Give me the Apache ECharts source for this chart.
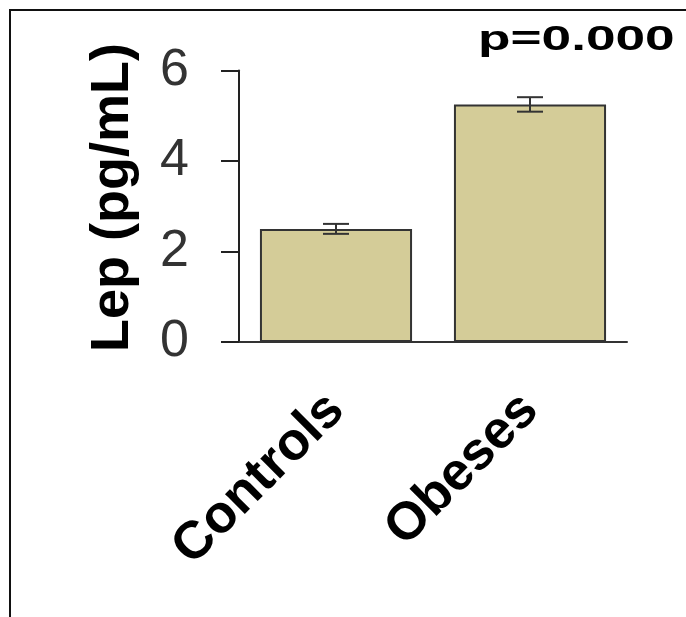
<!DOCTYPE html>
<html>
<head>
<meta charset="utf-8">
<style>html,body{margin:0;padding:0;background:#fff;}#c{width:686px;height:617px;}</style>
<script src="https://cdn.jsdelivr.net/npm/echarts@6/dist/echarts.min.js"></script>
</head>
<body>
<div id="c"></div>
<script>
const categories = ['Controls', 'Obeses'];
const means = [2.50, 5.25];
const errors = [0.11, 0.16];
const yTicks = [0, 2, 4, 6];
const yName = 'Lep (pg/mL)';
const pText = 'p=0.000';

const chart = echarts.init(document.getElementById('c'), null, {renderer: 'canvas'});
const errData = categories.map((c, i) => [i, means[i] - errors[i], means[i] + errors[i]]);

chart.setOption({
  animation: false,
  backgroundColor: '#fff',
  grid: {left: 239, right: 59, top: 70.5, bottom: 275, containLabel: false},
  xAxis: {
    type: 'category',
    data: categories,
    axisLine: {lineStyle: {color: '#333', width: 2}},
    axisTick: {show: false},
    axisLabel: {
      rotate: 45, interval: 0, margin: 60,
      fontFamily: 'Liberation Sans', fontWeight: 'bold', fontSize: 53, color: '#000'
    }
  },
  yAxis: {
    type: 'value', min: 0, max: 6, interval: 2,
    axisLine: {show: true, lineStyle: {color: '#222', width: 2}},
    axisTick: {show: true, length: 18, lineStyle: {color: '#222', width: 2}},
    splitLine: {show: false},
    axisLabel: {
      margin: 50, fontFamily: 'Liberation Sans', fontSize: 52, color: '#333',
      formatter: v => yTicks.includes(v) ? String(v) : ''
    }
  },
  series: [
    {
      type: 'bar',
      data: means,
      barCategoryGap: '21.6%',
      itemStyle: {color: '#d4cc98', borderColor: '#333', borderWidth: 2},
      z: 2
    },
    {
      type: 'custom',
      data: errData,
      z: 3,
      renderItem: function (params, api) {
        const x = api.value(0);
        const lo = api.coord([x, api.value(1)]);
        const hi = api.coord([x, api.value(2)]);
        const hw = 13;
        const st = {stroke: '#333', lineWidth: 2};
        return {
          type: 'group',
          children: [
            {type: 'line', shape: {x1: lo[0], y1: lo[1], x2: hi[0], y2: hi[1]}, style: st},
            {type: 'line', shape: {x1: lo[0] - hw, y1: lo[1], x2: lo[0] + hw, y2: lo[1]}, style: st},
            {type: 'line', shape: {x1: hi[0] - hw, y1: hi[1], x2: hi[0] + hw, y2: hi[1]}, style: st}
          ]
        };
      }
    }
  ],
  graphic: [
    {type: 'line', shape: {x1: 9, y1: 10, x2: 686, y2: 10}, style: {stroke: '#111', lineWidth: 2}},
    {type: 'line', shape: {x1: 10, y1: 9, x2: 10, y2: 617}, style: {stroke: '#111', lineWidth: 2}},
    {
      type: 'text', x: 113, y: 197.5, rotation: Math.PI / 2,
      style: {text: yName, fontFamily: 'Liberation Sans', fontWeight: 'bold', fontSize: 54, fill: '#000',
              align: 'center', verticalAlign: 'middle'}
    },
    {
      type: 'text', x: 478, y: 23, scaleX: 1.52,
      style: {text: pText, fontFamily: 'Liberation Sans', fontWeight: 'bold', fontSize: 35, fill: '#000',
              align: 'left', verticalAlign: 'top'}
    }
  ]
});
</script>
</body>
</html>
